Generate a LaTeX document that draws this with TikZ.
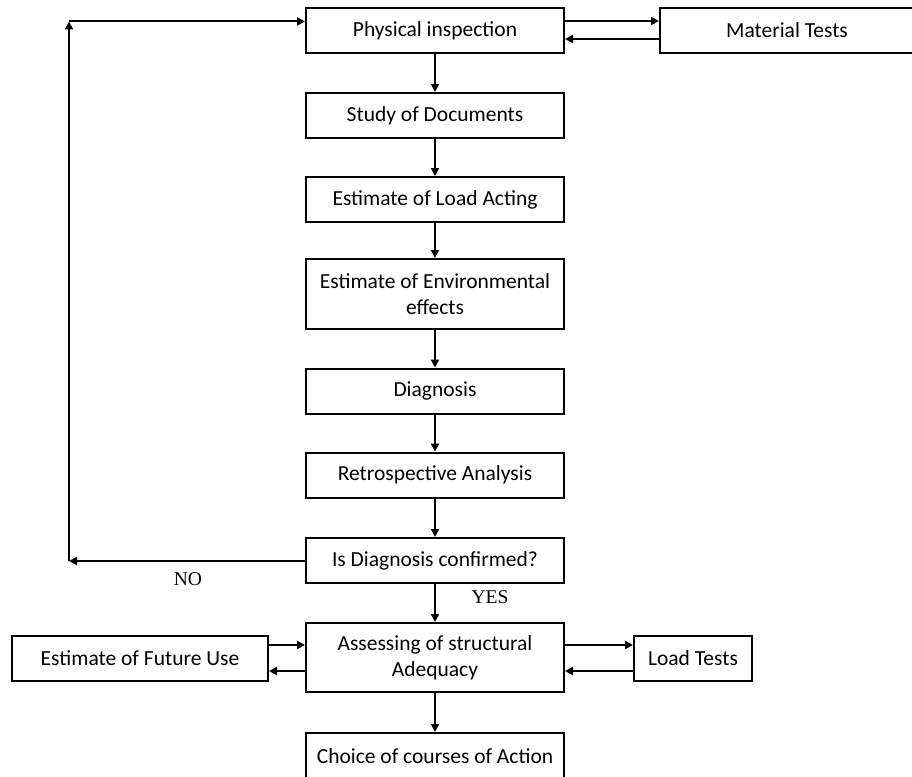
\documentclass[tikz,border=0pt]{standalone}
\usepackage{fontspec}
\setmainfont{Carlito}
\newfontfamily\yesnofont{Liberation Serif}
\usetikzlibrary{arrows.meta,calc}
\begin{document}
\begin{tikzpicture}[x=1pt,y=-1pt,
  box/.style={draw,line width=2pt,minimum height=45pt,inner sep=0pt,align=center,
     font=\fontsize{21.5}{26}\selectfont},
  mainbox/.style={box,minimum width=258pt},
  arr/.style={line width=2pt,-{Triangle[length=8pt,width=8pt]}},
  lab/.style={font=\yesnofont\fontsize{19.5}{22}\selectfont,inner sep=0pt}]
\useasboundingbox (0,0) rectangle (912,776);
\node[mainbox] (pi) at (435,31) {Physical inspection};
\node[box,minimum width=254pt] (mt) at (787,30.5) {Material Tests};
\node[mainbox] (sd) at (435,115.5) {Study of Documents};
\node[mainbox] (ela) at (435,199.5) {Estimate of Load Acting};
\node[mainbox,minimum height=70pt] (env) at (435,294) {Estimate of Environmental\\effects};
\node[mainbox] (dg) at (435,391) {Diagnosis};
\node[mainbox] (ra) at (435,475) {Retrospective Analysis};
\node[mainbox] (idc) at (435,560.5) {Is Diagnosis confirmed?};
\node[mainbox,minimum height=69pt] (asa) at (435,657.5) {Assessing of structural\\Adequacy};
\node[box,minimum width=256pt] (fu) at (140,658) {Estimate of Future Use};
\node[box,minimum width=118pt] (lt) at (693,658) {Load Tests};
\node[mainbox,minimum height=46pt] (cc) at (435,756) {Choice of courses of Action};
\node[lab] (no) at (188,579.5) {NO};
\node[lab] (yes) at (490,597) {YES};
% vertical chain
\draw[arr] (pi) -- (sd);
\draw[arr] (sd) -- (ela);
\draw[arr] (ela) -- (env);
\draw[arr] (env) -- (dg);
\draw[arr] (dg) -- (ra);
\draw[arr] (ra) -- (idc);
\draw[arr] (idc) -- (asa);
\draw[arr] (asa) -- (cc);
% material tests
\path ([yshift=10pt]pi.east) coordinate (m1) ([yshift=-8pt]pi.east) coordinate (m2);
\draw[arr] (m1) -- (m1 -| mt.west);
\draw[arr] (m2 -| mt.west) -- (m2);
% future use / load tests
\path ([yshift=12.5pt]asa.east) coordinate (r1) ([yshift=-13.5pt]asa.east) coordinate (r2);
\draw[arr] (r1) -- (r1 -| lt.west);
\draw[arr] (r2 -| lt.west) -- (r2);
\path ([yshift=12.5pt]asa.west) coordinate (l1) ([yshift=-13.5pt]asa.west) coordinate (l2);
\draw[arr] (l1 -| fu.east) -- (l1);
\draw[arr] (l2) -- (l2 -| fu.east);
% feedback loop
\coordinate (cb) at (69,561);
\coordinate (ct) at (69,21.5);
\draw[arr] (idc.west |- cb) -- (cb);
\draw[arr] (cb) -- (ct);
\draw[arr] (ct) -- (ct -| pi.west);
\end{tikzpicture}
\end{document}
